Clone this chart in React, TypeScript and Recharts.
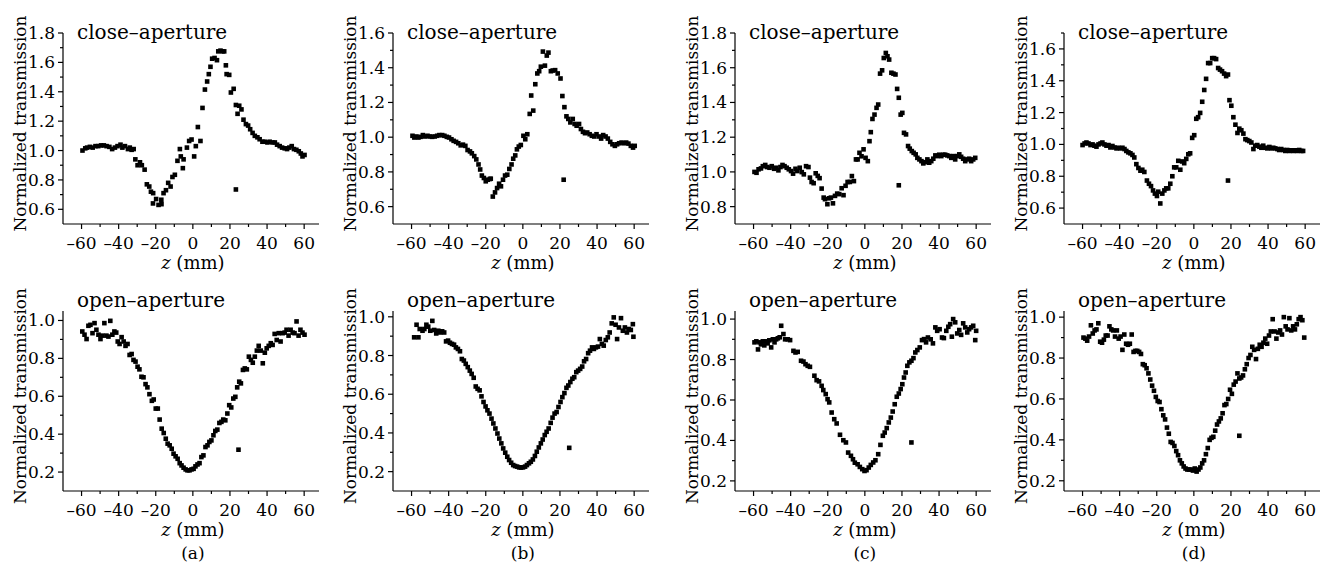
import React from 'react';
import { ScatterChart, Scatter, XAxis, YAxis, Label } from 'recharts';

const FONT = "'DejaVu Serif', serif";

// z (mm), normalized transmission
const closeA = [
  [-59.5, 1.0], [-58, 1.015], [-57, 1.02], [-55.5, 1.025], [-54, 1.02], [-52.5, 1.03], [-51, 1.03],
  [-49.5, 1.035], [-48, 1.035], [-46.5, 1.03], [-45, 1.025], [-43.5, 1.01], [-42, 1.02], [-40.6, 1.03],
  [-39, 1.04], [-38, 1.02], [-36.6, 1.03], [-35, 1.01], [-34, 1.02], [-33, 1.005], [-31.9, 1.01],
  [-31, 0.94], [-29.8, 0.9], [-28.5, 0.92], [-27.5, 0.9], [-26, 0.87], [-24.8, 0.77], [-23.5, 0.755],
  [-22.6, 0.72], [-21.4, 0.71], [-21.5, 0.64], [-19.8, 0.67], [-18.5, 0.63], [-16.9, 0.635], [-17, 0.665],
  [-15.8, 0.71], [-14.5, 0.73], [-13.3, 0.78], [-12, 0.755], [-11, 0.82], [-9.7, 0.835], [-8.3, 0.93],
  [-7, 1.01], [-6.5, 0.96], [-5.4, 0.88], [-5, 0.94], [-3.2, 1.02], [-2, 1.065], [-0.7, 1.075],
  [0.7, 0.96], [1.6, 1.03], [2.7, 1.16], [4.1, 1.065], [5.2, 1.29], [6.5, 1.415], [7.7, 1.47],
  [8.6, 1.52], [9.5, 1.57], [10.4, 1.625], [11.7, 1.63], [13, 1.615], [13.7, 1.675], [14.9, 1.68],
  [16, 1.675], [16.9, 1.675], [17.8, 1.58], [18.2, 1.52], [19.6, 1.515], [20.5, 1.395], [22, 1.42],
  [23.2, 1.31], [24.1, 1.25], [25, 1.305], [26.2, 1.28], [27.3, 1.21], [28.6, 1.18], [29.8, 1.17],
  [30.9, 1.145], [32.2, 1.12], [33.4, 1.1], [34.8, 1.09], [36, 1.077], [37.5, 1.06], [38.7, 1.06],
  [40.2, 1.055], [41.4, 1.06], [42.9, 1.055], [44.2, 1.055], [45.4, 1.04], [46.8, 1.03], [48.1, 1.02],
  [49.5, 1.015], [50.8, 1.01], [52, 1.02], [53.3, 1.03], [54.5, 1.01], [55.8, 1.005], [57.1, 0.995],
  [58.2, 0.98], [59.1, 0.96], [60.2, 0.97], [23.2, 0.735],
];

const closeB = [
  [-59.5, 1.008], [-58.5, 0.998], [-57.4, 1.004], [-56.3, 0.998], [-55.1, 1.002], [-53.9, 1.012],
  [-52.6, 1.004], [-51.4, 1.008], [-50.1, 1.004], [-48.9, 1.002], [-47.5, 1.004], [-46.2, 1.008],
  [-45, 1.012], [-43.5, 1.012], [-42.3, 1.008], [-41, 1.002], [-39.8, 0.998], [-38.5, 0.988],
  [-37.3, 0.979], [-36, 0.973], [-34.8, 0.965], [-33.5, 0.953], [-32.3, 0.957], [-31, 0.95],
  [-29.8, 0.926], [-28.5, 0.918], [-27.5, 0.907], [-26.2, 0.891], [-25.1, 0.872], [-23.9, 0.843],
  [-23, 0.814], [-22.1, 0.779], [-21, 0.765], [-20, 0.746], [-18.9, 0.755], [-17.8, 0.759],
  [-17.3, 0.761], [-16.2, 0.658], [-15, 0.682], [-13.9, 0.707], [-12.8, 0.732], [-11.8, 0.717],
  [-10.7, 0.755], [-9.6, 0.779], [-8.4, 0.784], [-7.3, 0.817], [-6.1, 0.843], [-5.2, 0.876],
  [-4.1, 0.895], [-3.2, 0.93], [-2.2, 0.946], [-1.1, 0.955], [0.3, 1.008], [1.3, 0.988], [2.4, 1.017],
  [3.7, 1.134], [4.5, 1.24], [5.6, 1.153], [6.7, 1.305], [7.8, 1.367], [8.8, 1.38], [9.7, 1.406],
  [10.8, 1.493], [11.9, 1.412], [12.9, 1.47], [13.8, 1.487], [15.1, 1.38], [16.1, 1.384], [17.4, 1.386],
  [18.8, 1.367], [20.3, 1.338], [21.3, 1.237], [22.4, 1.173], [23.5, 1.12], [24.5, 1.105], [25.6, 1.085],
  [26.9, 1.105], [27.9, 1.076], [29, 1.066], [30.3, 1.076], [31.3, 1.047], [32.4, 1.031], [33.5, 1.023],
  [34.7, 1.027], [36, 1.017], [37.2, 1.008], [38.5, 1.004], [39.7, 1.017], [41, 1.004], [42.2, 0.992],
  [43.3, 1.012], [44.6, 1.004], [45.8, 0.992], [47.1, 0.973], [48.3, 0.959], [49.6, 0.95], [50.8, 0.959],
  [51.9, 0.965], [53.2, 0.969], [54.4, 0.965], [55.7, 0.969], [56.9, 0.963], [58.2, 0.95], [59.4, 0.94],
  [60.3, 0.95], [22, 0.755],
];

const closeC = [
  [-59.5, 1.0], [-58.4, 0.995], [-57.3, 1.015], [-56, 1.02], [-55, 1.033], [-53.7, 1.04], [-52.7, 1.028],
  [-51.4, 1.024], [-50.2, 1.033], [-48.9, 1.018], [-47.8, 1.024], [-46.6, 1.009], [-45.5, 1.028],
  [-44.4, 1.04], [-43.3, 1.033], [-42.1, 1.024], [-41, 1.015], [-39.8, 1.005], [-38.7, 0.99],
  [-37.4, 1.018], [-36.4, 1.005], [-35.1, 1.024], [-34, 0.999], [-32.9, 0.986], [-31.7, 1.033],
  [-30.4, 1.028], [-29.6, 0.967], [-28.7, 0.942], [-27.6, 0.935], [-26.5, 0.992], [-25.4, 0.977],
  [-24.4, 0.964], [-23.3, 0.904], [-22.2, 0.852], [-21.5, 0.843], [-20.2, 0.814], [-19.3, 0.848],
  [-18.3, 0.852], [-17.2, 0.819], [-16.1, 0.862], [-14.9, 0.875], [-13.8, 0.872], [-12.5, 0.906],
  [-11.5, 0.866], [-10.4, 0.92], [-9.3, 0.942], [-8.1, 0.942], [-7, 0.976], [-5.9, 0.947], [-4.8, 1.072],
  [-3.9, 1.072], [-2.9, 1.11], [-1.8, 1.09], [-0.7, 1.13], [0.4, 1.081], [1.6, 1.062], [2.5, 1.177],
  [3.2, 1.229], [4.1, 1.305], [5.2, 1.33], [6.3, 1.369], [7.2, 1.388], [8.2, 1.566], [9.3, 1.585],
  [10.2, 1.656], [11.3, 1.685], [12.2, 1.666], [13.1, 1.647], [14.3, 1.571], [15.4, 1.566], [16.5, 1.561],
  [17.4, 1.478], [18.3, 1.427], [19.3, 1.33], [20.2, 1.34], [21.1, 1.225], [22.2, 1.216], [23.3, 1.149],
  [24.2, 1.134], [25.3, 1.12], [26.3, 1.11], [27.4, 1.101], [28.3, 1.081], [29.4, 1.072], [30.5, 1.062],
  [31.5, 1.049], [32.6, 1.056], [33.7, 1.072], [34.7, 1.053], [35.8, 1.062], [36.9, 1.076], [38, 1.095],
  [39, 1.091], [40.1, 1.099], [41.2, 1.091], [42.3, 1.099], [43.3, 1.099], [44.4, 1.095], [45.5, 1.091],
  [46.6, 1.081], [47.6, 1.091], [48.7, 1.072], [49.8, 1.091], [50.9, 1.101], [51.9, 1.087], [53, 1.076],
  [54.1, 1.062], [55.2, 1.072], [56.2, 1.076], [57.3, 1.062], [58.4, 1.072], [59.5, 1.081], [18.3, 0.923],
];

const closeD = [
  [-60, 0.996], [-58.9, 1.006], [-57.9, 1.012], [-56.8, 1.006], [-55.7, 0.996], [-54.6, 1.0], [-53.6, 0.992],
  [-52.5, 0.986], [-51.4, 1.0], [-50.3, 1.006], [-49.3, 1.012], [-48.2, 1.0], [-47.1, 0.992], [-46, 0.996],
  [-45, 0.981], [-43.9, 0.99], [-42.8, 0.981], [-41.7, 0.975], [-40.7, 0.979], [-39.6, 0.975], [-38.5, 0.979],
  [-37.4, 0.971], [-36.4, 0.959], [-35.3, 0.95], [-34.2, 0.944], [-33.1, 0.934], [-32.1, 0.918], [-31, 0.876],
  [-29.9, 0.852], [-28.8, 0.835], [-27.8, 0.841], [-26.7, 0.827], [-25.3, 0.773], [-24.2, 0.753],
  [-23.1, 0.738], [-22, 0.711], [-21, 0.691], [-19.9, 0.676], [-19.2, 0.703], [-18.1, 0.629], [-17, 0.691],
  [-15.9, 0.711], [-14.9, 0.724], [-13.8, 0.724], [-12.7, 0.753], [-11.6, 0.8], [-10.6, 0.856], [-9.5, 0.856],
  [-8.4, 0.897], [-7.3, 0.841], [-6.3, 0.893], [-5.2, 0.882], [-4.1, 0.909], [-3, 0.938], [-2, 0.944],
  [-0.9, 1.041], [0.2, 1.058], [1.3, 1.161], [2.3, 1.171], [3.4, 1.198], [4.5, 1.268], [5.6, 1.342],
  [6.6, 1.412], [7.7, 1.511], [8.8, 1.511], [9.9, 1.542], [10.9, 1.542], [12, 1.536], [13.1, 1.48],
  [14.1, 1.47], [15.2, 1.46], [16.3, 1.445], [17.4, 1.429], [18.4, 1.439], [19.2, 1.278], [20.2, 1.243],
  [21.3, 1.171], [22.4, 1.124], [23.5, 1.072], [24.5, 1.099], [25.6, 1.089], [26.7, 1.068], [27.8, 1.033],
  [28.8, 1.027], [29.9, 1.021], [31, 1.012], [32.1, 0.971], [33.1, 0.992], [34.2, 0.996], [35.3, 0.986],
  [36.4, 0.979], [37.4, 0.992], [38.5, 0.979], [39.6, 0.975], [40.7, 0.984], [41.7, 0.975], [42.8, 0.979],
  [43.9, 0.975], [45, 0.971], [46, 0.965], [47.1, 0.971], [48.2, 0.965], [49.3, 0.959], [50.3, 0.965],
  [51.4, 0.959], [52.5, 0.963], [53.6, 0.959], [54.6, 0.963], [55.7, 0.959], [56.8, 0.965], [57.9, 0.959],
  [58.9, 0.959], [18.4, 0.773],
];

const openA = [
  [-59.6, 0.942], [-58.4, 0.925], [-57.3, 0.902], [-56.3, 0.972], [-55.2, 0.977], [-54.1, 0.933], [-53, 0.986],
  [-52, 0.951], [-50.9, 0.925], [-49.8, 0.902], [-48.8, 0.92], [-47.7, 0.986], [-46.6, 0.92], [-45.5, 0.915],
  [-44.5, 0.998], [-43.4, 0.925], [-42.3, 0.942], [-41.3, 0.936], [-40.5, 0.889], [-39.5, 0.876],
  [-38.4, 0.912], [-37.3, 0.889], [-36.3, 0.866], [-35.2, 0.876], [-34.1, 0.818], [-33, 0.823], [-32, 0.792],
  [-30.9, 0.783], [-29.8, 0.756], [-28.8, 0.742], [-27.7, 0.703], [-26.6, 0.7], [-25.5, 0.664], [-24.5, 0.647],
  [-23.4, 0.611], [-22.1, 0.576], [-21.1, 0.583], [-20, 0.535], [-18.9, 0.535], [-17.9, 0.477], [-16.8, 0.429],
  [-15.7, 0.406], [-14.6, 0.376], [-13.6, 0.35], [-12.5, 0.341], [-11.4, 0.323], [-10.4, 0.297], [-9.3, 0.283],
  [-8.2, 0.27], [-7.1, 0.247], [-6.1, 0.235], [-5, 0.223], [-3.9, 0.214], [-2.9, 0.209], [-1.8, 0.209],
  [-0.7, 0.214], [0.4, 0.217], [1.4, 0.23], [2.5, 0.24], [3.6, 0.247], [4.6, 0.279], [5.7, 0.288],
  [6.8, 0.332], [7.9, 0.341], [8.9, 0.359], [10, 0.367], [11.1, 0.394], [12.1, 0.417], [13.2, 0.424],
  [14.3, 0.459], [15.4, 0.465], [16.4, 0.477], [17.5, 0.473], [18.6, 0.509], [19.6, 0.553], [20.7, 0.541],
  [21.8, 0.588], [22.9, 0.597], [23.9, 0.647], [25, 0.677], [25.9, 0.668], [27, 0.739], [28, 0.747],
  [29.1, 0.742], [30.2, 0.809], [31.3, 0.792], [32.3, 0.777], [33.4, 0.809], [34.5, 0.841], [35.5, 0.866],
  [36.6, 0.841], [37.7, 0.774], [38.8, 0.83], [39.8, 0.853], [40.9, 0.866], [42, 0.88], [43, 0.871],
  [44.1, 0.929], [45.2, 0.897], [46.3, 0.933], [47.3, 0.889], [48.4, 0.933], [49.5, 0.936], [50.5, 0.951],
  [51.6, 0.92], [52.7, 0.951], [53.8, 0.936], [54.8, 0.933], [55.9, 0.995], [57, 0.92], [58, 0.951],
  [59.1, 0.936], [60.2, 0.925], [24.6, 0.318],
];

const openB = [
  [-58.6, 0.894], [-57.3, 0.959], [-56.3, 0.894], [-55.6, 0.937], [-54.1, 0.928], [-53.1, 0.937], [-52, 0.959],
  [-51, 0.949], [-49.9, 0.928], [-48.8, 0.979], [-47.8, 0.932], [-46.7, 0.914], [-45.6, 0.928], [-44.6, 0.919],
  [-43.5, 0.925], [-42.4, 0.919], [-41.4, 0.873], [-40.3, 0.877], [-39.3, 0.866], [-38.2, 0.86], [-37.1, 0.856],
  [-36.1, 0.842], [-35, 0.834], [-33.9, 0.822], [-32.9, 0.782], [-31.8, 0.774], [-30.8, 0.757], [-29.7, 0.74],
  [-28.6, 0.722], [-27.6, 0.705], [-26.5, 0.685], [-25.4, 0.64], [-24.4, 0.628], [-23.3, 0.62], [-22.3, 0.589],
  [-21.2, 0.56], [-20.1, 0.537], [-19.1, 0.517], [-18, 0.5], [-16.9, 0.474], [-15.9, 0.449], [-14.8, 0.423],
  [-13.7, 0.397], [-12.7, 0.371], [-11.6, 0.346], [-10.6, 0.32], [-9.5, 0.298], [-8.4, 0.277], [-7.4, 0.26],
  [-6.3, 0.246], [-5.2, 0.234], [-4.2, 0.229], [-3.1, 0.226], [-2, 0.222], [-1, 0.221], [0.1, 0.222],
  [1.2, 0.226], [2.2, 0.234], [3.3, 0.243], [4.3, 0.251], [5.4, 0.263], [6.5, 0.281], [7.5, 0.303],
  [8.6, 0.325], [9.7, 0.346], [10.7, 0.366], [11.8, 0.389], [12.8, 0.406], [13.9, 0.423], [15, 0.452],
  [16, 0.479], [17.1, 0.5], [18.2, 0.508], [19.2, 0.534], [20.3, 0.56], [21.3, 0.585], [22.4, 0.606],
  [23.5, 0.633], [24.5, 0.645], [25.6, 0.663], [26.7, 0.68], [27.7, 0.688], [28.8, 0.714], [29.8, 0.722],
  [30.9, 0.731], [32, 0.743], [33, 0.77], [34.1, 0.782], [35.2, 0.812], [36.2, 0.825], [37.3, 0.842],
  [38.3, 0.834], [39.4, 0.842], [40.5, 0.846], [41.5, 0.885], [42.6, 0.86], [43.6, 0.851], [44.7, 0.88],
  [45.8, 0.894], [46.8, 0.919], [47.9, 0.966], [49, 0.997], [50, 0.959], [50.8, 0.885], [51.8, 0.945],
  [52.9, 0.993], [53.9, 0.928], [55, 0.945], [56.1, 0.919], [57.1, 0.937], [58.2, 0.932], [59.3, 0.962],
  [59.6, 0.897], [25, 0.323],
];

const openC = [
  [-59.5, 0.885], [-58.5, 0.89], [-57.6, 0.85], [-56.8, 0.885], [-56, 0.875], [-55, 0.89], [-54.2, 0.87],
  [-53.3, 0.89], [-52.4, 0.88], [-51.5, 0.895], [-50.5, 0.86], [-49.6, 0.9], [-48.7, 0.885], [-47.8, 0.9],
  [-46.9, 0.905], [-45.9, 0.91], [-45.1, 0.967], [-43.9, 0.926], [-43, 0.9], [-41.6, 0.9], [-40.3, 0.896],
  [-38.5, 0.843], [-37.4, 0.835], [-36.2, 0.838], [-34.4, 0.794], [-33.1, 0.79], [-32, 0.777], [-30.8, 0.769],
  [-29.6, 0.764], [-27.2, 0.72], [-26, 0.698], [-24.7, 0.692], [-23.3, 0.67], [-22.4, 0.649], [-21.1, 0.629],
  [-20.1, 0.604], [-19.2, 0.588], [-17.9, 0.538], [-16.5, 0.505], [-15.2, 0.484], [-13.4, 0.428],
  [-11.6, 0.401], [-10.2, 0.39], [-9, 0.34], [-7.5, 0.324], [-6.4, 0.307], [-5.4, 0.29], [-3.9, 0.282],
  [-2.7, 0.269], [-1.4, 0.258], [-0.2, 0.249], [0.9, 0.253], [2.1, 0.266], [3.2, 0.279], [4.5, 0.291],
  [5.7, 0.302], [7.2, 0.332], [8.4, 0.378], [9.7, 0.423], [10.7, 0.439], [11.8, 0.461], [12.9, 0.489],
  [14, 0.513], [15, 0.543], [16.1, 0.579], [17.2, 0.616], [18.3, 0.632], [19.3, 0.654], [20.2, 0.678],
  [21.1, 0.711], [22, 0.736], [22.9, 0.769], [24, 0.786], [25.1, 0.794], [26.2, 0.807], [27.2, 0.835],
  [28.3, 0.847], [29.6, 0.86], [30.8, 0.896], [31.9, 0.901], [33, 0.885], [34, 0.909], [35.5, 0.9],
  [36.7, 0.88], [38, 0.959], [39, 0.942], [40.3, 0.95], [41.6, 0.909], [42.6, 0.906], [43.9, 0.942],
  [45, 0.962], [46, 0.975], [46.9, 0.913], [47.6, 1.0], [48.7, 0.984], [49.8, 0.929], [50.9, 0.946],
  [51.9, 0.922], [53, 0.979], [54.1, 0.959], [55.2, 0.934], [56.2, 0.95], [57.3, 0.959], [58.4, 0.967],
  [59.5, 0.896], [60, 0.942], [25.1, 0.39],
];

const openD = [
  [-59.5, 0.9], [-58.5, 0.895], [-57.5, 0.885], [-56.5, 0.905], [-55.5, 0.96], [-54.5, 0.92], [-53.5, 0.935],
  [-52.5, 0.94], [-51.5, 0.97], [-50.5, 0.88], [-49.5, 0.875], [-48.5, 0.89], [-47.5, 0.91], [-46.5, 0.91],
  [-45.5, 0.955], [-44.5, 0.94], [-43.5, 0.935], [-42.5, 0.905], [-41.5, 0.935], [-40.5, 0.895], [-39.5, 0.905],
  [-38.5, 0.84], [-37.5, 0.915], [-36.5, 0.87], [-35.5, 0.865], [-34.5, 0.87], [-33.5, 0.915], [-32.5, 0.83],
  [-31.5, 0.835], [-30.5, 0.835], [-29.5, 0.83], [-28.5, 0.82], [-27.5, 0.77], [-26.5, 0.765], [-25.5, 0.75],
  [-24.5, 0.725], [-23.5, 0.695], [-22.5, 0.665], [-21.5, 0.64], [-20.5, 0.61], [-19.5, 0.59], [-18.5, 0.585],
  [-17.5, 0.55], [-16.5, 0.52], [-15.5, 0.5], [-14.5, 0.46], [-13.5, 0.43], [-12.5, 0.39], [-11.5, 0.385],
  [-10.5, 0.37], [-9.5, 0.345], [-8.5, 0.325], [-7.5, 0.3], [-6.5, 0.285], [-5.5, 0.27], [-4.5, 0.26],
  [-3.5, 0.255], [-2.5, 0.255], [-1.5, 0.255], [-0.5, 0.25], [0.5, 0.26], [1.5, 0.245], [2.5, 0.255],
  [3.5, 0.265], [4.5, 0.285], [5.5, 0.3], [6.5, 0.33], [7.5, 0.36], [8.5, 0.4], [9.5, 0.41], [10.5, 0.415],
  [11.5, 0.445], [12.5, 0.475], [13.5, 0.49], [14.5, 0.505], [15.5, 0.53], [16.5, 0.57], [17.5, 0.575],
  [18.5, 0.6], [19.5, 0.645], [20.5, 0.625], [21.5, 0.67], [22.5, 0.685], [23.5, 0.725], [24.5, 0.7],
  [25.5, 0.705], [26.5, 0.715], [27.5, 0.745], [28.5, 0.77], [29.5, 0.8], [30.5, 0.815], [31.5, 0.855],
  [32.5, 0.84], [33.5, 0.795], [34.5, 0.845], [35.5, 0.865], [36.5, 0.855], [37.5, 0.875], [38.5, 0.895],
  [39.5, 0.87], [40.5, 0.91], [41.5, 0.93], [42.5, 0.99], [43.5, 0.93], [44.5, 0.895], [45.5, 0.925],
  [46.5, 0.935], [47.5, 0.915], [48.5, 1.0], [49.5, 0.955], [50.5, 0.94], [51.5, 0.995], [52.5, 0.935],
  [53.5, 0.955], [54.5, 0.94], [55.5, 0.965], [56.5, 0.99], [57.5, 1.0], [58.5, 0.985], [59.5, 0.9],
  [24.5, 0.42],
];

const xMajor = [-60, -40, -20, 0, 20, 40, 60];
const xMinor = [-50, -30, -10, 10, 30, 50];
const yCloseA = [0.6, 0.8, 1.0, 1.2, 1.4, 1.6, 1.8];
const yCloseB = [0.6, 0.8, 1.0, 1.2, 1.4, 1.6];
const yCloseC = [0.8, 1.0, 1.2, 1.4, 1.6, 1.8];
const yCloseD = [0.6, 0.8, 1.0, 1.2, 1.4, 1.6];
const yOpen = [0.2, 0.4, 0.6, 0.8, 1.0];

const X_DOMAIN: [number, number] = [-70, 68];

const toPoints = (pairs: number[][]) => pairs.map(([z, t]) => ({ z, t }));

const minorsOf = (major: number[], lo: number, hi: number) => {
  const out: number[] = [];
  major.forEach((v) => {
    [v - 0.1, v + 0.1].forEach((m) => {
      const r = Math.round(m * 100) / 100;
      if (r > lo + 1e-6 && r <= hi + 1e-6 && !major.some((M) => Math.abs(M - r) < 1e-6) && !out.includes(r)) {
        out.push(r);
      }
    });
  });
  return out;
};

const fmtX = (v: number) => (v < 0 ? '\u2013' + Math.abs(v) : String(v));

const XTick = (props: any) => {
  const { x, y, payload } = props;
  const major = xMajor.includes(payload.value);
  return (
    <g>
      <line x1={x} y1={y} x2={x} y2={y + (major ? 5 : 3)} stroke="#000" strokeWidth={1.2} />
      {major && (
        <text x={x} y={y + 25} textAnchor="middle" fontFamily={FONT} fontSize={17} fill="#000">
          {fmtX(payload.value)}
        </text>
      )}
    </g>
  );
};

const makeYTick = (majors: number[]) => (props: any) => {
  const { x, y, payload } = props;
  const major = majors.some((m) => Math.abs(m - payload.value) < 1e-6);
  return (
    <g>
      <line x1={x} y1={y} x2={x - (major ? 5 : 3)} y2={y} stroke="#000" strokeWidth={1.2} />
      {major && (
        <text x={x - 8} y={y + 6} textAnchor="end" fontFamily={FONT} fontSize={17} fill="#000">
          {payload.value.toFixed(1)}
        </text>
      )}
    </g>
  );
};

const Square = (props: any) => {
  const { cx, cy } = props;
  if (cx == null || cy == null) return null;
  return <rect x={cx - 2.3} y={cy - 2.3} width={4.6} height={4.6} fill="#000" />;
};

type PanelProps = {
  pairs: number[][];
  yDomain: [number, number];
  yMajor: number[];
  title: string;
  left: number;
  top: number;
  bottomRow?: boolean;
  letter?: string;
};

const Panel = ({ pairs, yDomain, yMajor, title, left, top, bottomRow, letter }: PanelProps) => {
  const marginTop = bottomRow ? 31 : 33;
  const xAxisH = bottomRow ? 74 : 61;
  const yTicks = [...yMajor, ...minorsOf(yMajor, yDomain[0], yDomain[1])];
  const YTick = makeYTick(yMajor);

  const xLabel = (p: any) => {
    const vb = p.viewBox;
    const x0 = vb.x + (vb.width * (0 - X_DOMAIN[0])) / (X_DOMAIN[1] - X_DOMAIN[0]);
    return (
      <g>
        <text x={x0} y={vb.y + (bottomRow ? 45 : 45)} textAnchor="middle" fontFamily={FONT} fontSize={18} fill="#000">
          <tspan fontStyle="italic">z</tspan>
          {' (mm)'}
        </text>
        {letter && (
          <text x={x0} y={vb.y + 68} textAnchor="middle" fontFamily={FONT} fontSize={17} fill="#000">
            {letter}
          </text>
        )}
      </g>
    );
  };

  const yLabel = (p: any) => {
    const vb = p.viewBox;
    const bx = vb.x + vb.width - 37;
    const cy = vb.y + vb.height / 2 - 5;
    return (
      <g>
        <text
          x={bx}
          y={cy}
          transform={`rotate(-90, ${bx}, ${cy})`}
          textAnchor="middle"
          fontFamily={FONT}
          fontSize={17}
          fill="#000"
        >
          Normalized transmission
        </text>
        <text x={vb.x + vb.width + 14} y={vb.y + (bottomRow ? -4 : 6)} fontFamily={FONT} fontSize={20} fill="#000">
          {title}
        </text>
      </g>
    );
  };

  return (
    <div style={{ position: 'absolute', left, top }}>
      <ScatterChart width={330} height={285} margin={{ top: marginTop, right: 11, bottom: 0, left: 0 }}>
        <XAxis
          type="number"
          dataKey="z"
          domain={X_DOMAIN}
          ticks={[...xMajor, ...xMinor]}
          interval={0}
          tick={(p: any) => <XTick {...p} />}
          tickLine={false}
          tickSize={0}
          tickMargin={0}
          height={xAxisH}
          axisLine={{ stroke: '#000', strokeWidth: 1.2 }}
          allowDataOverflow
        >
          <Label content={xLabel} />
        </XAxis>
        <YAxis
          type="number"
          dataKey="t"
          domain={yDomain}
          ticks={yTicks}
          interval={0}
          tick={(p: any) => <YTick {...p} />}
          tickLine={false}
          tickSize={0}
          tickMargin={0}
          width={63}
          axisLine={{ stroke: '#000', strokeWidth: 1.2 }}
          allowDataOverflow
        >
          <Label content={yLabel} />
        </YAxis>
        <Scatter data={toPoints(pairs)} shape={Square} isAnimationActive={false} />
      </ScatterChart>
    </div>
  );
}

export default function App() {
  return (
    <div style={{ position: 'absolute', left: 0, top: 0, width: 1320, height: 565, background: '#fff', overflow: 'hidden' }}>
      <Panel pairs={closeA} yDomain={[0.5, 1.8]} yMajor={yCloseA} title="close–aperture" left={0} top={0} />
      <Panel pairs={closeB} yDomain={[0.5, 1.6]} yMajor={yCloseB} title="close–aperture" left={330} top={0} />
      <Panel pairs={closeC} yDomain={[0.7, 1.8]} yMajor={yCloseC} title="close–aperture" left={672} top={0} />
      <Panel pairs={closeD} yDomain={[0.5, 1.7]} yMajor={yCloseD} title="close–aperture" left={1001} top={0} />
      <Panel pairs={openA} yDomain={[0.1, 1.05]} yMajor={yOpen} title="open–aperture" left={0} top={280} bottomRow letter="(a)" />
      <Panel pairs={openB} yDomain={[0.1, 1.03]} yMajor={yOpen} title="open–aperture" left={330} top={280} bottomRow letter="(b)" />
      <Panel pairs={openC} yDomain={[0.15, 1.04]} yMajor={yOpen} title="open–aperture" left={672} top={280} bottomRow letter="(c)" />
      <Panel pairs={openD} yDomain={[0.15, 1.03]} yMajor={yOpen} title="open–aperture" left={1001} top={280} bottomRow letter="(d)" />
    </div>
  );
}
